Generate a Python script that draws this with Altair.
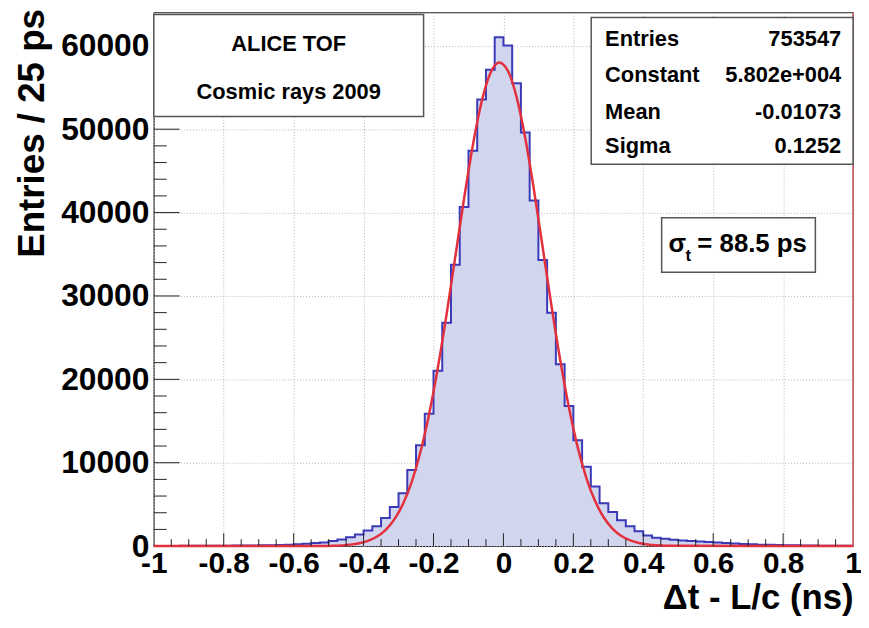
import altair as alt
import pandas as pd

# ---------------- data ----------------
BIN_START = -1.0
BIN_WIDTH = 0.025   # 25 ps bins

counts = [
    20, 22, 25, 28, 32, 36, 40, 46, 52, 60,
    70, 82, 96, 115, 140, 175, 225, 290, 360, 440,
    600, 790, 1070, 1380, 1860, 2380, 3370, 4680, 6350, 9120,
    12100, 15870, 21020, 26790, 33730, 40670, 47420, 53570, 57140, 61020,
    60030, 55500, 49600, 41460, 34320, 27980, 21820, 16800, 12700, 9520,
    7140, 5150, 4100, 3100, 2380, 1790, 1260, 1010, 880, 760,
    680, 620, 560, 500, 420, 360, 300, 250, 210, 175,
    150, 125, 105, 90, 75, 62, 52, 44, 37, 30,
]

fit_x = [-1.0,
         -0.5125, -0.4875, -0.4625, -0.4375, -0.4125, -0.3875, -0.3625, -0.3375, -0.3125, -0.2875,
         -0.2625, -0.2375, -0.2125, -0.1875, -0.1625, -0.1375, -0.1125, -0.0875, -0.0625, -0.0375,
         -0.0125, 0.0125, 0.0375, 0.0625, 0.0875, 0.1125, 0.1375, 0.1625, 0.1875, 0.2125,
         0.2375, 0.2625, 0.2875, 0.3125, 0.3375, 0.3625, 0.3875, 0.4125, 0.4375, 0.4625,
         1.0]
fit_y = [0,
         19, 41, 86, 174, 337, 626, 1118, 1925, 3173, 5037,
         7681, 11255, 15830, 21410, 27820, 34740, 41690, 48080, 53260, 56700,
         58010, 57030, 53880, 48910, 42660, 35760, 28790, 22280, 16580, 11840,
         8130, 5365, 3400, 2073, 1213, 682, 368, 191, 96, 46,
         0]

x_tick_labels = [-1, -0.8, -0.6, -0.4, -0.2, 0, 0.2, 0.4, 0.6, 0.8, 1]
y_tick_labels = [0, 10000, 20000, 30000, 40000, 50000, 60000]

stat_names = ["Entries", "Constant", "Mean", "Sigma"]
stat_values = ["753547", "5.802e+004", "-0.01073", "0.1252"]

# ---------------- tables ----------------
edges = [round(BIN_START + BIN_WIDTH * i, 4) for i in range(len(counts) + 1)]
step_df = pd.DataFrame({"x": edges, "y": counts + [counts[-1]]})
fit_df = pd.DataFrame({"x": fit_x, "y": fit_y})

x_minor = [round(-1 + 0.05 * i, 3) for i in range(1, 40)]
x_minor = [v for v in x_minor if round(v / 0.2, 6) != round(v / 0.2)]
x_major = [v for v in x_tick_labels if v not in (-1, 1)]
y_minor = [2000 * i for i in range(1, 32) if (2000 * i) % 10000 != 0]
y_major = [v for v in y_tick_labels if v != 0]

one = pd.DataFrame({"a": [0]})

FONT = "Liberation Sans"
W, H = 705, 538
xscale = alt.Scale(domain=[-1, 1], nice=False, zero=False)
yscale = alt.Scale(domain=[0, 64000], nice=False)

x_enc = alt.X("x:Q", scale=xscale, axis=alt.Axis(
    values=x_tick_labels, labelExpr="toString(datum.value)",
    title="Δt - L/c (ns)", titleFont=FONT, titleFontSize=35, titleFontWeight="bold",
    titleAlign="right", titleAnchor="end", titleX=W, titleY=52, titleBaseline="middle",
    titleColor="black",
    labelFont=FONT, labelFontSize=30, labelFontWeight="bold", labelColor="black",
    labelPadding=3, labelFlush=False, labelOverlap=False,
    ticks=False, domain=False,
    grid=True, gridColor="#b5b5b5", gridDash=[1, 2], gridWidth=1))
y_enc = alt.Y("y:Q", scale=yscale, axis=alt.Axis(
    values=y_tick_labels, format="d",
    title="Entries / 25 ps", titleFont=FONT, titleFontSize=37, titleFontWeight="bold",
    titleAngle=-90, titleAlign="right", titleAnchor="end", titleX=-122, titleY=-4,
    titleBaseline="middle", titleColor="black",
    labelFont=FONT, labelFontSize=32, labelFontWeight="bold", labelColor="black",
    labelPadding=5, labelOverlap=False, labelFlush=False,
    ticks=False, domain=False,
    grid=True, gridColor="#b5b5b5", gridDash=[1, 2], gridWidth=1))

area = alt.Chart(step_df).mark_area(interpolate="step-after", color="#d2d5ee").encode(x=x_enc, y=y_enc)
outline = alt.Chart(step_df).mark_line(interpolate="step-after", color="#3a3ab8", strokeWidth=2).encode(
    x="x:Q", y="y:Q")
fit = alt.Chart(fit_df).mark_line(interpolate="monotone", color="#e2303c", strokeWidth=2.5).encode(
    x="x:Q", y="y:Q")

def xticks(vals, length):
    return alt.Chart(pd.DataFrame({"x": vals})).mark_rule(color="#222", strokeWidth=1).encode(
        x="x:Q", y=alt.value(H), y2=alt.value(H - length))

def yticks(vals, length):
    return alt.Chart(pd.DataFrame({"y": vals})).mark_rule(color="#222", strokeWidth=1).encode(
        y="y:Q", x=alt.value(0), x2=alt.value(length))

right_edge = alt.Chart(one).mark_rule(color="#d9606a", strokeWidth=1.5).encode(
    x=alt.value(W), y=alt.value(0), y2=alt.value(H))

def box(x1, x2, y1, y2):
    return alt.Chart(one).mark_rect(fill="white", stroke="#555", strokeWidth=1.5).encode(
        x=alt.value(x1), x2=alt.value(x2), y=alt.value(y1), y2=alt.value(y2))

def txt(s, x, y, size, align="left"):
    return alt.Chart(one).mark_text(text=s, align=align, baseline="middle", fontSize=size,
                                    font=FONT, fontWeight="bold", color="black").encode(
        x=alt.value(x), y=alt.value(y))

layers = [area, outline, fit,
          xticks(x_major, 13), xticks(x_minor, 7),
          yticks(y_major, 26), yticks(y_minor, 13),
          right_edge,
          box(0, 272, 2, 105),
          txt("ALICE TOF", 136, 32, 22, "center"),
          txt("Cosmic rays 2009", 136, 80, 22, "center"),
          box(441, 705, 5, 153)]
rows_y = [27, 63, 100, 135]
for name, val, yy in zip(stat_names, stat_values, rows_y):
    layers.append(txt(name, 455, yy, 22, "left"))
    layers.append(txt(val, 693, yy, 22, "right"))
layers += [box(512, 667, 207, 262),
           txt("σ", 519, 233, 26, "left"),
           txt("t", 536, 246, 17, "left"),
           txt("= 88.5 ps", 548, 233, 26, "left")]

chart = alt.layer(*layers).properties(
    width=W, height=H,
    padding={"left": 147, "top": 2, "right": 8, "bottom": 70},
    autosize=alt.AutoSizeParams(type="none"),
    background="white",
).configure_view(stroke="#222", strokeWidth=1.2)

chart.save("out.html", embed_options={"renderer": "svg", "actions": False})
